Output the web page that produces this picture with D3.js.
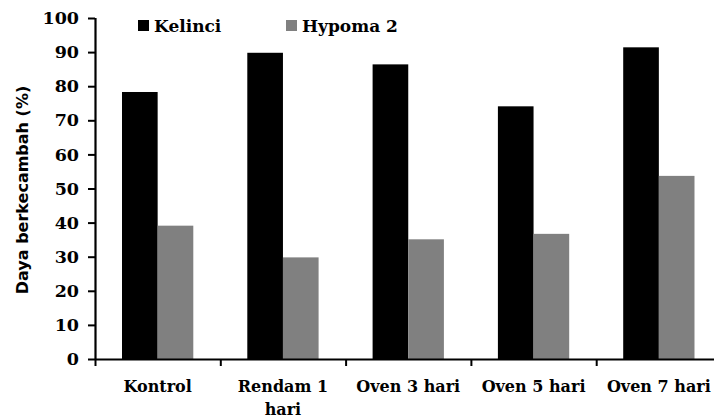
<!DOCTYPE html>
<html>
<head>
<meta charset="utf-8">
<script src="https://cdn.jsdelivr.net/npm/d3@7"></script>
<style>
  html, body { margin: 0; padding: 0; background: #fff; overflow: hidden; }
  svg { display: block; }
</style>
</head>
<body>
<svg id="chart" width="714" height="419"></svg>
<script>
const categories = [["Kontrol"], ["Rendam 1", "hari"], ["Oven 3 hari"], ["Oven 5 hari"], ["Oven 7 hari"]];
const seriesNames = ["Kelinci", "Hypoma 2"];
const kelinci = [78.3, 89.8, 86.4, 74.1, 91.4];
const hypoma2 = [39.1, 29.8, 35.1, 36.7, 53.7];
const yTicks = [0, 10, 20, 30, 40, 50, 60, 70, 80, 90, 100];
const colors = ["#000000", "#808080"];
const yTitle = "Daya berkecambah (%)";

(function () {
const svg = d3.select("#chart");
const mLeft = 95, mRight = 721.5, mTop = 18, mBottom = 359;
const catKeys = categories.map(c => c.join(" "));
const seriesValues = [kelinci, hypoma2];

const x = d3.scaleBand().domain(catKeys).range([mLeft, mRight]).paddingInner(0).paddingOuter(0);
const bw = x.bandwidth();
const x1 = d3.scaleBand().domain(seriesNames).range([bw * 0.2155, bw * 0.7845]).padding(0);
const y = d3.scaleLinear().domain([0, 100]).range([mBottom, mTop]);

// bars
seriesNames.forEach((s, si) => {
  svg.append("g").selectAll("rect")
    .data(seriesValues[si])
    .join("rect")
    .attr("x", (d, i) => x(catKeys[i]) + x1(s))
    .attr("y", d => y(d))
    .attr("width", x1.bandwidth())
    .attr("height", d => y(0) - y(d))
    .attr("fill", colors[si]);
});

// y axis
const yAxis = svg.append("g")
  .attr("transform", `translate(${mLeft},0)`)
  .call(d3.axisLeft(y).tickValues(yTicks).tickSize(7).tickPadding(9).tickFormat(d3.format("d")));
yAxis.select(".domain").attr("stroke", "#000").attr("stroke-width", 2.2).attr("d", `M0.5,${mTop}V${mBottom}`);
yAxis.selectAll(".tick line").attr("stroke", "#000").attr("stroke-width", 2);
yAxis.selectAll(".tick text")
  .attr("fill", "#000")
  .style("font-family", "'DejaVu Serif', serif")
  .style("font-weight", "bold")
  .style("font-size", "17.5px");

// x axis
const xAxis = svg.append("g")
  .attr("transform", `translate(0,${mBottom})`)
  .call(d3.axisBottom(x).tickSize(0).tickFormat(""));
xAxis.select(".domain").attr("stroke", "#000").attr("stroke-width", 2.2).attr("d", `M${mLeft},0.5H${mRight}`);
const boundaries = catKeys.map(k => x(k)).concat([mRight]);
svg.append("g").selectAll("line")
  .data(boundaries)
  .join("line")
  .attr("x1", d => d + 0.5).attr("x2", d => d + 0.5)
  .attr("y1", mBottom).attr("y2", mBottom + 7)
  .attr("stroke", "#000").attr("stroke-width", 2);

// x labels
const xl = svg.append("g")
  .style("font-family", "'DejaVu Serif', serif")
  .style("font-weight", "bold")
  .style("font-size", "16px")
  .attr("fill", "#000");
categories.forEach((lines, i) => {
  const cx = x(catKeys[i]) + bw / 2;
  const t = xl.append("text").attr("x", cx).attr("y", 392).attr("text-anchor", "middle");
  lines.forEach((ln, j) => {
    t.append("tspan").attr("x", cx).attr("dy", j === 0 ? 0 : 23).text(ln);
  });
});

// y title
svg.append("text")
  .attr("transform", `translate(28,190) rotate(-90)`)
  .attr("text-anchor", "middle")
  .style("font-family", "'DejaVu Sans', sans-serif")
  .style("font-weight", "bold")
  .style("font-size", "16px")
  .attr("fill", "#000")
  .text(yTitle);

// legend
const legendX = [138, 286];
const lg = svg.append("g");
seriesNames.forEach((s, i) => {
  lg.append("rect").attr("x", legendX[i]).attr("y", 20).attr("width", 11).attr("height", 11).attr("fill", colors[i]);
  lg.append("text")
    .attr("x", legendX[i] + 16)
    .attr("y", 32)
    .style("font-family", "'DejaVu Serif', serif")
    .style("font-weight", "bold")
    .style("font-size", "17px")
    .attr("fill", "#000")
    .text(s);
});
})();
</script>
</body>
</html>
